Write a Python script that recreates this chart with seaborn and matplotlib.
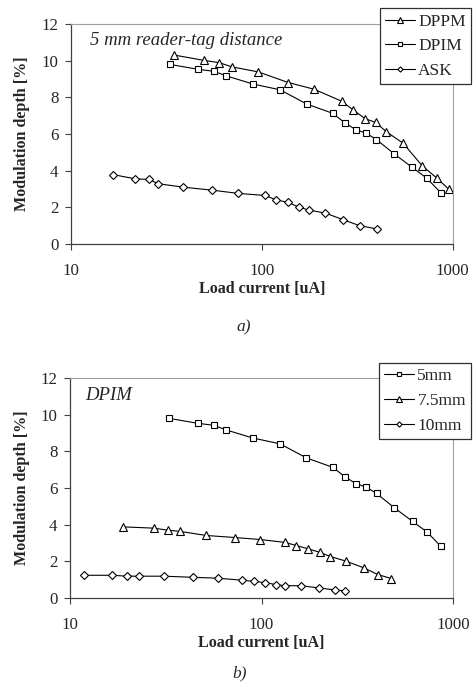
import numpy as np
import pandas as pd
import matplotlib
matplotlib.use('Agg')
import matplotlib.pyplot as plt
import seaborn as sns
from matplotlib.lines import Line2D

# ---- panel a) 5 mm reader-tag distance ----
dppm_x = [34.6, 49.6, 59.9, 69.9, 95.6, 137.5, 188.3, 262, 300.6, 347.5, 395, 449.8, 550, 692, 823, 952]
dppm_y = [10.31, 10.02, 9.89, 9.66, 9.39, 8.81, 8.44, 7.79, 7.32, 6.84, 6.63, 6.12, 5.50, 4.27, 3.61, 3.0]

dpim_x = [32.9, 46.3, 56.2, 65.2, 89.7, 124.8, 171.6, 235, 271.8, 311.6, 350.4, 398.6, 493.5, 613.6, 732.4, 864]
dpim_y = [9.80, 9.53, 9.42, 9.17, 8.73, 8.41, 7.64, 7.13, 6.62, 6.23, 6.06, 5.70, 4.92, 4.18, 3.59, 2.81]

ask_x = [16.56, 21.6, 25.6, 28.7, 38.8, 54.8, 75.4, 103.7, 118.9, 137.5, 155.8, 176.5, 215, 266.3, 325.9, 403.5]
ask_y = [3.79, 3.56, 3.52, 3.29, 3.10, 2.94, 2.76, 2.65, 2.41, 2.27, 2.02, 1.85, 1.69, 1.33, 1.00, 0.82]

# ---- panel b) DPIM at different distances ----
d5_x, d5_y = dpim_x, dpim_y

d75_x = [19.0, 27.35, 32.4, 37.7, 51.5, 72.4, 98.2, 133.2, 152, 175.6, 201.3, 228.8, 276.3, 342.9, 404.3, 476.4]
d75_y = [3.88, 3.81, 3.70, 3.63, 3.41, 3.30, 3.19, 3.03, 2.86, 2.68, 2.49, 2.26, 2.01, 1.64, 1.28, 1.06]

d10_x = [11.8, 16.57, 19.9, 23.0, 30.97, 43.7, 59.3, 79.4, 91.0, 104.7, 118.6, 133.2, 160.8, 199.7, 241.1, 274.1]
d10_y = [1.24, 1.24, 1.19, 1.19, 1.19, 1.13, 1.08, 0.97, 0.91, 0.84, 0.73, 0.67, 0.67, 0.55, 0.44, 0.38]

sns.set_style('ticks')
plt.rcParams['font.family'] = ['Liberation Serif', 'DejaVu Serif']

fig = plt.figure(figsize=(4.73, 6.88), dpi=100)
ax1 = fig.add_axes([0.150, 0.6453, 0.807, 0.3198])
ax2 = fig.add_axes([0.148, 0.1308, 0.810, 0.3198])

marker_styles = {'tri': dict(marker='^', ms=6.0),
                 'sq': dict(marker='s', ms=5.0),
                 'dia': dict(marker='D', ms=3.8)}


def draw(ax, x, y, kind):
    df = pd.DataFrame({'x': x, 'y': y})
    sns.lineplot(data=df, x='x', y='y', ax=ax, sort=False, color='black',
                 linewidth=0.8, markerfacecolor='white', markeredgecolor='black',
                 markeredgewidth=0.8, **marker_styles[kind])


def style_axes(ax):
    ax.set_xscale('log')
    ax.set_xlim(10, 1000)
    ax.set_ylim(0, 12)
    ax.set_yticks([0, 2, 4, 6, 8, 10, 12])
    ax.set_xticks([10, 100, 1000])
    ax.set_xticklabels(['10', '100', '1000'])
    ax.xaxis.set_minor_locator(matplotlib.ticker.NullLocator())
    ax.tick_params(axis='both', labelsize=12.2, direction='out', length=4,
                   width=0.8, color='#404040')
    ax.tick_params(axis='x', pad=10)
    ax.tick_params(axis='y', pad=5)
    for s in ['left', 'bottom']:
        ax.spines[s].set_color('#404040')
        ax.spines[s].set_linewidth(0.9)
    for s in ['top', 'right']:
        ax.spines[s].set_visible(True)
        ax.spines[s].set_color('#a0a0a0')
        ax.spines[s].set_linewidth(0.8)
    ax.set_xlabel('Load current [uA]', fontsize=11.6, fontweight='bold', labelpad=1)
    ax.set_ylabel('Modulation depth [%]', fontsize=11.6, fontweight='bold', labelpad=8)


def make_legend(ax, kinds, labels, anchor):
    handles = [Line2D([0], [0], color='black', lw=0.8, markerfacecolor='white',
                      markeredgecolor='black', markeredgewidth=0.8,
                      marker=marker_styles[k]['marker'], ms=marker_styles[k]['ms'] * 0.7)
               for k in kinds]
    leg = ax.legend(handles, labels, loc='upper right', bbox_to_anchor=anchor,
                    bbox_transform=fig.transFigure, fontsize=12.5, frameon=True,
                    fancybox=False, edgecolor='#303030', framealpha=1,
                    handlelength=1.7, handletextpad=0.2, labelspacing=0.5,
                    borderpad=0.3, borderaxespad=0)
    leg.get_frame().set_linewidth(0.9)
    leg.set_zorder(10)


# panel a
draw(ax1, dppm_x, dppm_y, 'tri')
draw(ax1, dpim_x, dpim_y, 'sq')
draw(ax1, ask_x, ask_y, 'dia')
style_axes(ax1)
ax1.text(0.05, 0.905, '5 mm reader-tag distance', transform=ax1.transAxes,
         fontsize=13.5, fontstyle='italic', va='baseline')
make_legend(ax1, ['tri', 'sq', 'dia'], ['DPPM', 'DPIM', 'ASK'], (0.996, 0.988))

# panel b
draw(ax2, d5_x, d5_y, 'sq')
draw(ax2, d75_x, d75_y, 'tri')
draw(ax2, d10_x, d10_y, 'dia')
style_axes(ax2)
ax2.text(0.039, 0.9, 'DPIM', transform=ax2.transAxes,
         fontsize=13.5, fontstyle='italic', va='baseline')
make_legend(ax2, ['sq', 'tri', 'dia'], ['5mm', '7.5mm', '10mm'], (0.996, 0.473))

fig.text(244 / 473, 1 - 327 / 688, 'a)', fontsize=12.5, fontstyle='italic', ha='center', va='center')
fig.text(240 / 473, 1 - 673 / 688, 'b)', fontsize=12.5, fontstyle='italic', ha='center', va='center')

fig.savefig('out.png', dpi=100)
